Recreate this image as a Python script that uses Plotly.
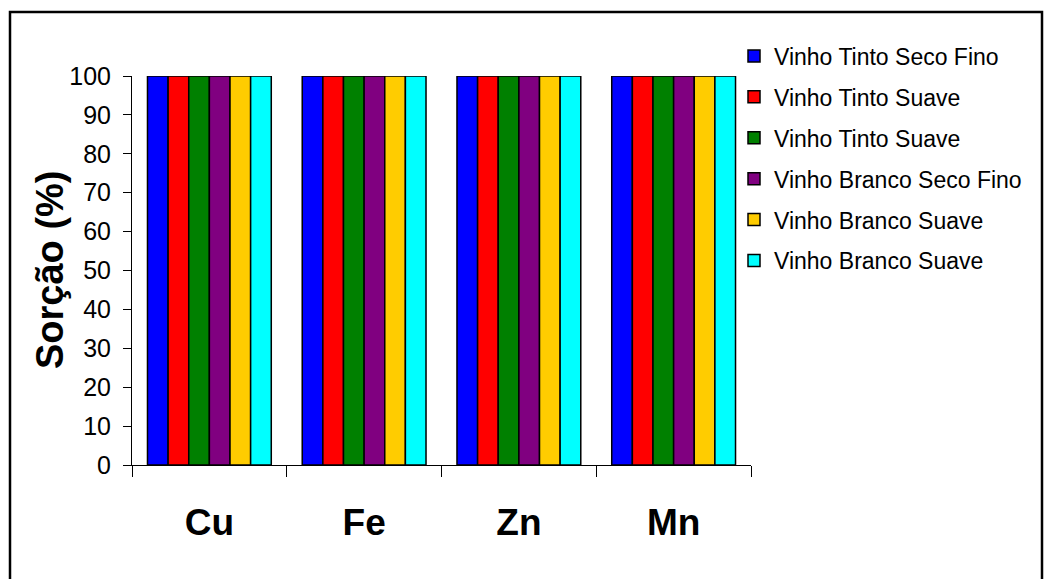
import plotly.graph_objects as go

categories = ["Cu", "Fe", "Zn", "Mn"]
series_names = [
    "Vinho Tinto Seco Fino",
    "Vinho Tinto Suave",
    "Vinho Tinto Suave",
    "Vinho Branco Seco Fino",
    "Vinho Branco Suave",
    "Vinho Branco Suave",
]
series_values = [
    [100, 100, 100, 100],
    [100, 100, 100, 100],
    [100, 100, 100, 100],
    [100, 100, 100, 100],
    [100, 100, 100, 100],
    [100, 100, 100, 100],
]
colors = ["#0000FF", "#FF0000", "#008000", "#800080", "#FFCC00", "#00FFFF"]
y_ticks = [0, 10, 20, 30, 40, 50, 60, 70, 80, 90, 100]

FONT = "Arial, 'Liberation Sans', sans-serif"

fig = go.Figure()
for i, (name, vals, col) in enumerate(zip(series_names, series_values, colors)):
    fig.add_trace(go.Bar(
        x=categories, y=vals, name=name, legendgroup=f"g{i}",
        marker=dict(color=col, line=dict(color="black", width=1.5)),
    ))

L, R, T, B = 132, 293, 76, 114
W, H = 1044, 579
pw, ph = W - L - R, H - T - B

def px_x(x):
    return (x - L) / pw

def px_y(y):
    return (H - B - y) / ph

fig.update_layout(
    width=W, height=H,
    margin=dict(l=L, r=R, t=T, b=B, pad=0),
    paper_bgcolor="white", plot_bgcolor="white",
    barmode="group", bargap=0.2, bargroupgap=0,
    font=dict(family=FONT, color="black"),
    showlegend=True,
    legend=dict(
        x=px_x(734), xanchor="left", y=px_y(34.5), yanchor="top",
        font=dict(size=23, family=FONT, color="black"),
        tracegroupgap=8, itemwidth=30, bgcolor="rgba(0,0,0,0)",
        borderwidth=0,
    ),
    xaxis=dict(
        type="category", tickson="boundaries", ticks="outside", ticklen=11,
        tickcolor="black", tickwidth=1, showline=True, linecolor="black",
        linewidth=1, showgrid=False, zeroline=False,
        tickfont=dict(size=37, family=FONT, color="black", weight="bold"),
        ticklabelstandoff=25,
    ),
    yaxis=dict(
        range=[0, 100], tickvals=y_ticks, ticks="outside", ticklen=8,
        tickcolor="black", tickwidth=1, showline=True, linecolor="black",
        linewidth=1, showgrid=False, zeroline=False,
        tickfont=dict(size=25, family=FONT, color="black"),
        ticklabelstandoff=7,
    ),
    annotations=[dict(
        text="<b>Sorção (%)</b>", textangle=-90, x=px_x(50), y=px_y(270),
        xref="paper", yref="paper", showarrow=False,
        font=dict(size=38, family=FONT, color="black"),
        xanchor="center", yanchor="middle",
    )],
    shapes=[dict(
        type="rect", xref="paper", yref="paper",
        x0=px_x(10), x1=px_x(1042), y0=px_y(595), y1=px_y(12),
        line=dict(color="black", width=2.5), fillcolor="rgba(0,0,0,0)",
        layer="below",
    )],
)

fig.write_html("out.html")
